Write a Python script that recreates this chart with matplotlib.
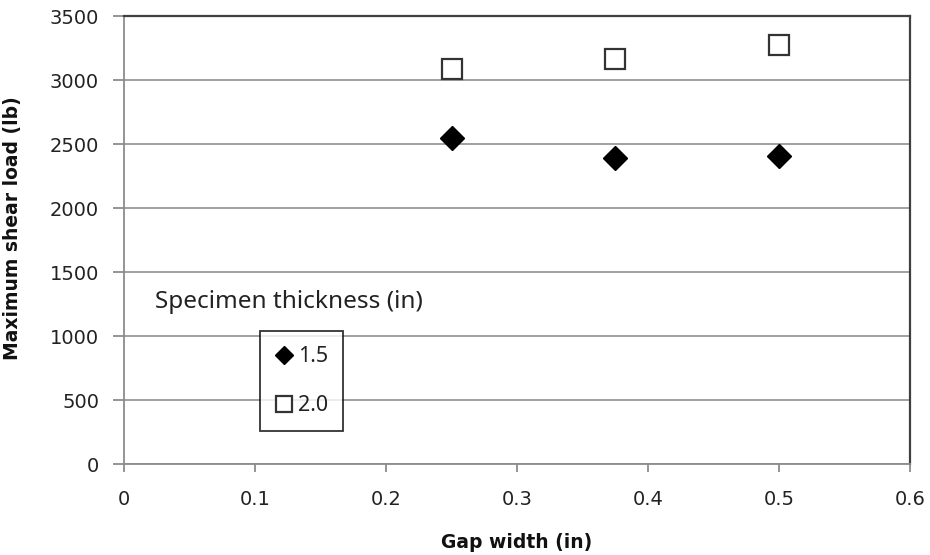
"""
Maximum shear load vs gap width, two specimen thicknesses
"""
import matplotlib
matplotlib.use('Agg')
import matplotlib.pyplot as plt

gap_width = [0.25, 0.375, 0.5]
load_15 = [2545, 2390, 2410]
load_20 = [3085, 3165, 3275]
series_labels = ['1.5', '2.0']

x_ticks = [0, 0.1, 0.2, 0.3, 0.4, 0.5, 0.6]
y_ticks = [0, 500, 1000, 1500, 2000, 2500, 3000, 3500]

fig = plt.figure(figsize=(9.3, 5.55), dpi=100)
ax = fig.add_axes([124 / 930, 1 - 464 / 555, (910 - 124) / 930, (464 - 16) / 555])

ax.set_xlim(0, 0.6)
ax.set_ylim(0, 3500)
ax.set_xticks(x_ticks)
ax.set_yticks(y_ticks)
ax.set_xticklabels(['0', '0.1', '0.2', '0.3', '0.4', '0.5', '0.6'])

# horizontal gridlines only
ax.yaxis.grid(True, color='#999999', linewidth=1.3)
ax.set_axisbelow(True)

for side in ['left', 'bottom']:
    ax.spines[side].set_color('#8c8c8c')
    ax.spines[side].set_linewidth(1.3)
for side in ['top', 'right']:
    ax.spines[side].set_color('#404040')
    ax.spines[side].set_linewidth(1.6)

ax.tick_params(axis='both', direction='out', color='#8c8c8c', width=1.3,
               labelsize=14, labelcolor='#222222')
ax.tick_params(axis='y', length=8, pad=10)
ax.tick_params(axis='x', length=6, pad=13)

ax.plot(gap_width, load_15, linestyle='none', marker='D', markersize=12,
        color='black', label=series_labels[0])
ax.plot(gap_width, load_20, linestyle='none', marker='s', markersize=14,
        markerfacecolor='white', markeredgecolor='#333333', markeredgewidth=1.6,
        label=series_labels[1])

ax.set_xlabel('Gap width (in)', fontsize=13.5, fontweight='bold', color='#111111')
ax.set_ylabel('Maximum shear load (lb)', fontsize=13.5, fontweight='bold', color='#111111')
ax.xaxis.set_label_coords(0.5, -0.153)
ax.yaxis.set_label_coords(-0.13, 0.527)

leg = ax.legend(loc='upper left', bbox_to_anchor=(260 / 930, 1 - 331 / 555),
                bbox_transform=fig.transFigure, frameon=True, fancybox=False,
                prop={'family': 'Noto Sans', 'size': 15.5}, handlelength=0.8,
                handletextpad=0.25, borderpad=0.7, labelspacing=1.3,
                markerscale=0.8, borderaxespad=0)
leg.get_frame().set_edgecolor('black')
leg.get_frame().set_linewidth(1.3)
for t in leg.get_texts():
    t.set_color('#222222')

fig.text(155 / 930, 1 - 302 / 555, 'Specimen thickness (in)', family='Noto Sans',
         fontsize=17.5, color='#222222', va='center', ha='left')

fig.savefig('out.png', dpi=100)
